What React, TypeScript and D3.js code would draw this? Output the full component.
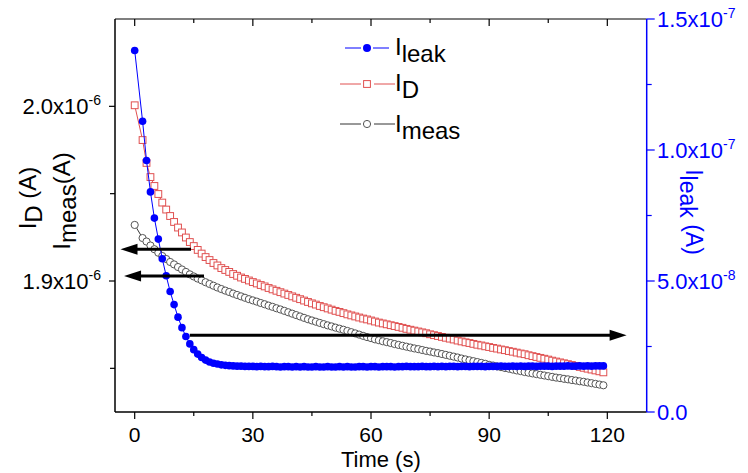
import React from 'react';
import * as d3 from 'd3';

// time in seconds
const time = [
  0, 2, 3, 4, 5, 6, 7, 8, 9, 10,
  11, 12, 13, 14, 15, 16, 17, 18, 19, 20,
  21, 22, 23, 24, 25, 26, 27, 28, 29, 30,
  31, 32, 33, 34, 35, 36, 37, 38, 39, 40,
  41, 42, 43, 44, 45, 46, 47, 48, 49, 50,
  51, 52, 53, 54, 55, 56, 57, 58, 59, 60,
  61, 62, 63, 64, 65, 66, 67, 68, 69, 70,
  71, 72, 73, 74, 75, 76, 77, 78, 79, 80,
  81, 82, 83, 84, 85, 86, 87, 88, 89, 90,
  91, 92, 93, 94, 95, 96, 97, 98, 99, 100,
  101, 102, 103, 104, 105, 106, 107, 108, 109, 110,
  111, 112, 113, 114, 115, 116, 117, 118, 119,
];

// I_D in units of 1e-6 A
const iD = [
  2.0006, 1.9807, 1.9676, 1.9595, 1.9544, 1.9498, 1.9449, 1.9409, 1.9372, 1.9338,
  1.9306, 1.9278, 1.9249, 1.9223, 1.92, 1.9178, 1.9157, 1.9137, 1.912, 1.9103,
  1.9089, 1.9074, 1.9063, 1.9052, 1.904, 1.903, 1.902, 1.9012, 1.9003, 1.8994,
  1.8986, 1.8977, 1.8969, 1.896, 1.8952, 1.8944, 1.8936, 1.8928, 1.892, 1.8912,
  1.8904, 1.8896, 1.8888, 1.888, 1.8872, 1.8865, 1.8857, 1.885, 1.8843, 1.8836,
  1.8829, 1.8823, 1.8816, 1.8809, 1.8803, 1.8797, 1.8791, 1.8785, 1.878, 1.8774,
  1.8768, 1.8762, 1.8757, 1.8752, 1.8747, 1.8742, 1.8737, 1.8732, 1.8726, 1.8721,
  1.8716, 1.8711, 1.8706, 1.8701, 1.8695, 1.869, 1.8685, 1.868, 1.8675, 1.867,
  1.8665, 1.8659, 1.8654, 1.8649, 1.8645, 1.864, 1.8635, 1.8631, 1.8626, 1.8622,
  1.8617, 1.8613, 1.8608, 1.8604, 1.8599, 1.8595, 1.859, 1.8585, 1.8581, 1.8575,
  1.857, 1.8565, 1.856, 1.8555, 1.855, 1.8544, 1.8539, 1.8534, 1.8529, 1.8524,
  1.8519, 1.8514, 1.8508, 1.8503, 1.8498, 1.8493, 1.8488, 1.8483, 1.8477,
];

// I_meas in units of 1e-6 A
const iMeas = [
  1.9321, 1.9246, 1.9226, 1.9203, 1.9182, 1.9162, 1.9143, 1.9126, 1.9109, 1.9095,
  1.908, 1.9066, 1.9052, 1.9038, 1.9026, 1.9014, 1.9004, 1.8993, 1.8983, 1.8973,
  1.8963, 1.8954, 1.8945, 1.8937, 1.8928, 1.892, 1.8912, 1.8904, 1.8896, 1.8889,
  1.8882, 1.8874, 1.8867, 1.8859, 1.8852, 1.8844, 1.8837, 1.8829, 1.8821, 1.8813,
  1.8805, 1.8797, 1.8789, 1.8781, 1.8774, 1.8767, 1.876, 1.8753, 1.8746, 1.874,
  1.8733, 1.8727, 1.8721, 1.8714, 1.8707, 1.87, 1.8693, 1.8686, 1.8679, 1.8673,
  1.8666, 1.8661, 1.8655, 1.865, 1.8645, 1.8639, 1.8634, 1.8629, 1.8624, 1.8619,
  1.8614, 1.861, 1.8605, 1.86, 1.8596, 1.8591, 1.8587, 1.8582, 1.8577, 1.8572,
  1.8567, 1.8562, 1.8556, 1.8551, 1.8546, 1.8541, 1.8536, 1.8531, 1.8526, 1.852,
  1.8516, 1.8511, 1.8507, 1.8502, 1.8498, 1.8493, 1.8488, 1.8484, 1.8479, 1.8475,
  1.8471, 1.8467, 1.8463, 1.8459, 1.8455, 1.8451, 1.8447, 1.8444, 1.844, 1.8437,
  1.8433, 1.843, 1.8426, 1.8423, 1.8419, 1.8415, 1.8411, 1.8407, 1.8403,
];

// I_leak in units of 1e-8 A
const iLeak = [
  13.8, 11.1, 9.6, 8.4, 7.4, 6.6, 5.85, 5.2, 4.6, 4.1,
  3.62, 3.22, 2.88, 2.6, 2.38, 2.21, 2.08, 1.98, 1.91, 1.86,
  1.83, 1.8, 1.78, 1.77, 1.76, 1.75, 1.75, 1.74, 1.74, 1.74,
  1.73, 1.74, 1.73, 1.73, 1.74, 1.73, 1.72, 1.73, 1.73, 1.72,
  1.73, 1.72, 1.73, 1.72, 1.72, 1.73, 1.72, 1.72, 1.73, 1.72,
  1.72, 1.73, 1.72, 1.73, 1.72, 1.72, 1.73, 1.73, 1.72, 1.73,
  1.73, 1.72, 1.73, 1.73, 1.73, 1.72, 1.73, 1.73, 1.74, 1.73,
  1.73, 1.73, 1.74, 1.73, 1.73, 1.74, 1.73, 1.74, 1.73, 1.74,
  1.74, 1.73, 1.74, 1.74, 1.73, 1.74, 1.74, 1.74, 1.73, 1.74,
  1.74, 1.74, 1.75, 1.74, 1.74, 1.75, 1.74, 1.75, 1.74, 1.75,
  1.75, 1.74, 1.75, 1.75, 1.75, 1.74, 1.75, 1.75, 1.75, 1.76,
  1.75, 1.75, 1.76, 1.75, 1.76, 1.75, 1.76, 1.76, 1.76,
];

const xTicks = [0, 30, 60, 90, 120];
const xMinorTicks = [15, 45, 75, 105];
const leftTicks = [1.9, 2.0];
const leftMinorTicks = [1.85, 1.95];
const rightTicks = [0, 5, 10, 15];
const rightMinorTicks = [2.5, 7.5, 12.5];

// annotation arrows: start time -> tip time, at a value on the given axis
const arrowStart = [14.3, 17.6, 14.0];
const arrowTip = [-3.6, -2.7, 124.9];
const arrowValue = [1.9182, 1.9029, 2.93];
const arrowAxis = ['left', 'left', 'right'];

const FONT = '"Liberation Sans", Arial, Helvetica, sans-serif';
const BLUE = '#0000ff';
const RED = '#e05050';
const GREY = '#555555';

const W = 748;
const H = 473;
const left = 115, right = 646.7, top = 19, bottom = 412;

export default function App() {
  const x = d3.scaleLinear().domain([-5, 130]).range([left, right]);
  const yL = d3.scaleLinear().domain([1.825, 2.05]).range([bottom, top]);
  const yR = d3.scaleLinear().domain([0, 15]).range([bottom, top]);

  const lineD = d3.line<number>().x((_, i) => x(time[i])).y((d) => yL(d));
  const lineL = d3.line<number>().x((_, i) => x(time[i])).y((d) => yR(d));

  const sup = (v: number, exp: number) => (
    <>
      {v.toFixed(1)}x10
      <tspan dy={-9} fontSize={14}>{exp}</tspan>
    </>
  );

  const rightLabel = (v: number) => {
    if (v === 0) return <>0.0</>;
    const [m, e] = (v * 1e-8).toExponential(1).split('e');
    return sup(+m, +e);
  };

  const arrowHead = (tx: number, ty: number, dir: number) => {
    const len = 17, half = 5.5;
    return `M${tx},${ty} L${tx - dir * len},${ty - half} L${tx - dir * len},${ty + half} Z`;
  };

  return (
    <svg width={W} height={H} style={{ position: 'absolute', left: 0, top: 0, background: '#fff' }} fontFamily={FONT}>
      {/* series */}
      <path d={lineD(iMeas) || ''} fill="none" stroke="#333" strokeWidth={1} />
      {iMeas.map((d, i) => (
        <circle key={'m' + i} cx={x(time[i])} cy={yL(d)} r={3.6} fill="#fff" stroke={GREY} strokeWidth={1} />
      ))}
      <path d={lineD(iD) || ''} fill="none" stroke={RED} strokeWidth={1} />
      {iD.map((d, i) => (
        <rect key={'d' + i} x={x(time[i]) - 3.4} y={yL(d) - 3.4} width={6.8} height={6.8} fill="#fff" stroke={RED} strokeWidth={1} />
      ))}
      <path d={lineL(iLeak) || ''} fill="none" stroke={BLUE} strokeWidth={1} />
      {iLeak.map((d, i) => (
        <circle key={'l' + i} cx={x(time[i])} cy={yR(d)} r={3.8} fill={BLUE} />
      ))}

      {/* arrows */}
      {arrowStart.map((s, i) => {
        const yy = arrowAxis[i] === 'left' ? yL(arrowValue[i]) : yR(arrowValue[i]);
        const x0 = x(s), x1 = x(arrowTip[i]);
        const dir = x1 > x0 ? 1 : -1;
        return (
          <g key={'a' + i}>
            <line x1={x0} y1={yy} x2={x1 - dir * 12} y2={yy} stroke="#000" strokeWidth={3} />
            <path d={arrowHead(x1, yy, dir)} fill="#000" />
          </g>
        );
      })}

      {/* frame */}
      <line x1={left} y1={top} x2={right} y2={top} stroke="#000" strokeWidth={1.2} />
      <line x1={left} y1={bottom} x2={right} y2={bottom} stroke="#000" strokeWidth={1.5} />
      <line x1={left} y1={top} x2={left} y2={bottom} stroke="#000" strokeWidth={1.5} />
      <line x1={right} y1={top} x2={right} y2={bottom} stroke={BLUE} strokeWidth={1.5} />

      {/* x ticks */}
      {xTicks.map((t) => (
        <g key={'xt' + t}>
          <line x1={x(t)} x2={x(t)} y1={bottom} y2={bottom + 7} stroke="#000" strokeWidth={1.2} />
          <line x1={x(t)} x2={x(t)} y1={top} y2={top + 7} stroke="#000" strokeWidth={1.2} />
          <text x={x(t)} y={442} textAnchor="middle" fontSize={21}>{t}</text>
        </g>
      ))}
      {xMinorTicks.map((t) => (
        <g key={'xm' + t}>
          <line x1={x(t)} x2={x(t)} y1={bottom} y2={bottom + 4} stroke="#000" strokeWidth={1.2} />
          <line x1={x(t)} x2={x(t)} y1={top} y2={top + 4} stroke="#000" strokeWidth={1.2} />
        </g>
      ))}
      <text x={(left + right) / 2} y={467} textAnchor="middle" fontSize={22}>Time (s)</text>

      {/* left axis */}
      {leftTicks.map((v) => (
        <g key={'lt' + v}>
          <line x1={left - 6} x2={left} y1={yL(v)} y2={yL(v)} stroke="#000" strokeWidth={1.2} />
          <text x={101} y={yL(v) + 8} textAnchor="end" fontSize={22}>{sup(v, -6)}</text>
        </g>
      ))}
      {leftMinorTicks.map((v) => (
        <line key={'lm' + v} x1={left - 5} x2={left} y1={yL(v)} y2={yL(v)} stroke="#000" strokeWidth={1.2} />
      ))}
      <text transform="translate(36,198) rotate(-90)" textAnchor="middle" fontSize={24}>
        I<tspan dy={6}>D</tspan><tspan dy={-6}> (A)</tspan>
      </text>
      <text transform="translate(70,201) rotate(-90)" textAnchor="middle" fontSize={24}>
        I<tspan dy={6}>meas</tspan><tspan dy={-6}>(A)</tspan>
      </text>

      {/* right axis */}
      {rightTicks.map((v) => (
        <g key={'rt' + v}>
          <line x1={right} x2={right + 8} y1={yR(v)} y2={yR(v)} stroke={BLUE} strokeWidth={1.2} />
          <text x={657} y={yR(v) + 8} fontSize={22} fill={BLUE}>{rightLabel(v)}</text>
        </g>
      ))}
      {rightMinorTicks.map((v) => (
        <line key={'rm' + v} x1={right} x2={right + 5} y1={yR(v)} y2={yR(v)} stroke={BLUE} strokeWidth={1.2} />
      ))}
      <text transform="translate(686,212) rotate(90)" textAnchor="middle" fontSize={23} fill={BLUE}>
        I<tspan dy={6}>leak</tspan><tspan dy={-6}> (A)</tspan>
      </text>

      {/* legend */}
      <g>
        <line x1={345} x2={361} y1={48} y2={48} stroke={BLUE} strokeWidth={1} />
        <line x1={373} x2={389} y1={48} y2={48} stroke={BLUE} strokeWidth={1} />
        <circle cx={367} cy={48} r={4} fill={BLUE} />
        <text x={395} y={55} fontSize={24}>I<tspan dy={7}>leak</tspan></text>

        <line x1={340} x2={361} y1={84} y2={84} stroke={RED} strokeWidth={1} />
        <line x1={374} x2={395} y1={84} y2={84} stroke={RED} strokeWidth={1} />
        <rect x={363.6} y={80.6} width={6.8} height={6.8} fill="#fff" stroke={RED} strokeWidth={1} />
        <text x={395} y={91} fontSize={24}>I<tspan dy={7}>D</tspan></text>

        <line x1={340} x2={361} y1={124} y2={124} stroke="#333" strokeWidth={1} />
        <line x1={374} x2={395} y1={124} y2={124} stroke="#333" strokeWidth={1} />
        <circle cx={367} cy={124} r={3.6} fill="#fff" stroke={GREY} strokeWidth={1} />
        <text x={395} y={132} fontSize={24}>I<tspan dy={7}>meas</tspan></text>
      </g>
    </svg>
  );
}
